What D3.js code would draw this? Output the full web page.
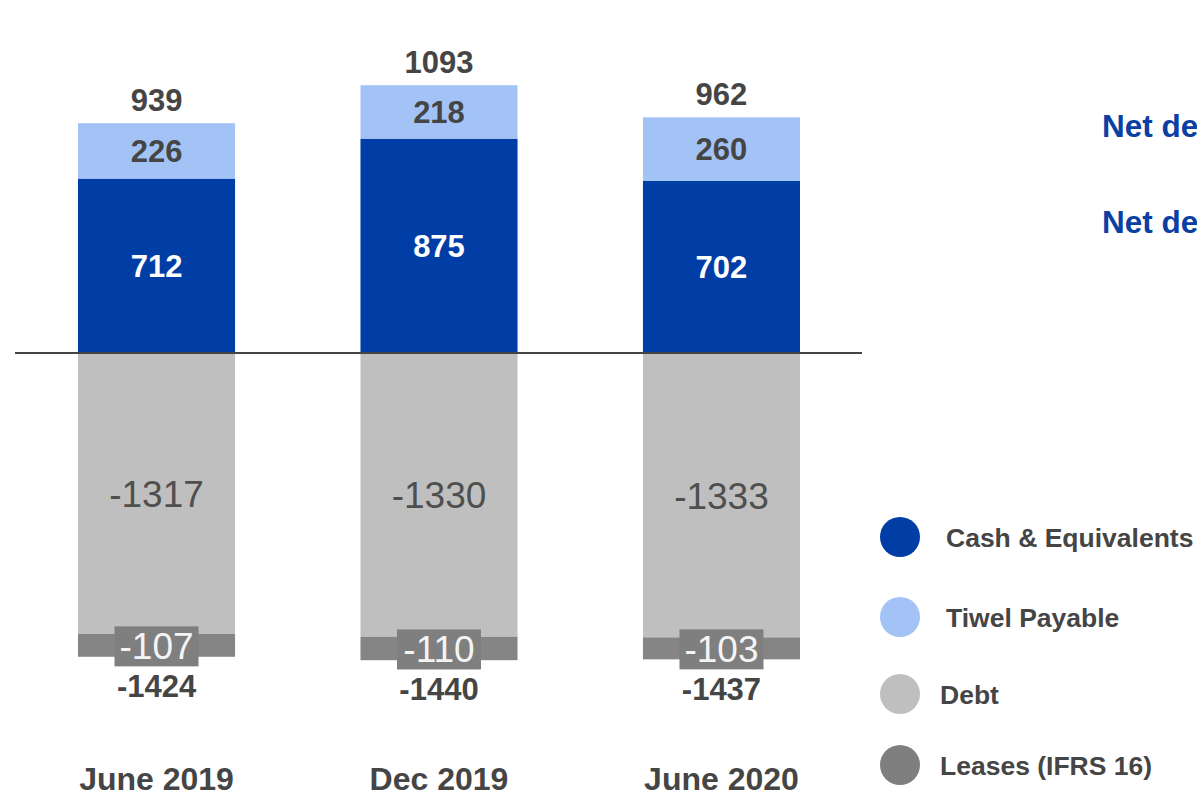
<!DOCTYPE html>
<html>
<head>
<meta charset="utf-8">
<script src="https://cdn.jsdelivr.net/npm/d3@7"></script>
<style>
  body { margin: 0; background: #fff; }
  svg { display: block; font-family: "Liberation Sans", Arial, sans-serif; }
</style>
</head>
<body>
<svg id="chart" width="1197" height="797"></svg>
<script>
// values
const categories = ["June 2019", "Dec 2019", "June 2020"];
const cash = [712, 875, 702];
const tiwel = [226, 218, 260];
const debt = [-1317, -1330, -1333];
const leases = [-107, -110, -103];
const totalPos = [939, 1093, 962];
const totalNeg = [-1424, -1440, -1437];
const legendItems = ["Cash & Equivalents", "Tiwel Payable", "Debt", "Leases (IFRS 16)"];
const sideNotes = ["Net debt excl. IFRS 16", "Net debt incl. IFRS 16"];

const colors = {
  cash: "#003da5",
  tiwel: "#a3c3f7",
  debt: "#bfbfbf",
  leases: "#858585",
  leaseBox: "#7f7f7f",
  text: "#454545"
};

const svg = d3.select("#chart");

const x = d3.scaleBand()
  .domain(categories)
  .range([78, 800])
  .paddingInner(0.444)
  .paddingOuter(0);

// slide uses a different px/unit above and below zero
const y = d3.scaleLinear()
  .domain([-1500, 0, 1200])
  .range([673, 353, 59]);

// stacked segments
let segs = [];
categories.forEach(function (c, i) {
  segs.push({ c: c, y0: 0, y1: cash[i], fill: colors.cash });
  segs.push({ c: c, y0: cash[i], y1: cash[i] + tiwel[i], fill: colors.tiwel });
  segs.push({ c: c, y0: 0, y1: debt[i], fill: colors.debt });
  segs.push({ c: c, y0: debt[i], y1: debt[i] + leases[i], fill: colors.leases });
});

svg.append("g").selectAll("rect")
  .data(segs)
  .enter().append("rect")
  .attr("x", d => x(d.c))
  .attr("width", x.bandwidth())
  .attr("y", d => y(Math.max(d.y0, d.y1)))
  .attr("height", d => Math.abs(y(d.y0) - y(d.y1)))
  .attr("fill", d => d.fill);

// zero line
svg.append("line")
  .attr("x1", 15).attr("x2", 862)
  .attr("y1", y(0)).attr("y2", y(0))
  .attr("stroke", "#444").attr("stroke-width", 2);

const labels = svg.append("g").attr("text-anchor", "middle");
const cx = c => x(c) + x.bandwidth() / 2;

categories.forEach(function (c, i) {
  // cash
  labels.append("text")
    .attr("x", cx(c)).attr("y", y(cash[i] / 2)).attr("dy", "0.36em")
    .attr("font-size", 31).attr("font-weight", "bold").attr("fill", "#fff")
    .text(cash[i]);
  // tiwel
  labels.append("text")
    .attr("x", cx(c)).attr("y", y(cash[i] + tiwel[i] / 2)).attr("dy", "0.36em")
    .attr("font-size", 31).attr("font-weight", "bold").attr("fill", colors.text)
    .text(tiwel[i]);
  // debt
  labels.append("text")
    .attr("x", cx(c)).attr("y", y(debt[i] / 2)).attr("dy", "0.36em")
    .attr("font-size", 37).attr("fill", "#4f4f4f")
    .text(debt[i]);
  // leases, label sits on a darker box
  let ly = y(debt[i] + leases[i] / 2);
  labels.append("rect")
    .attr("x", cx(c) - 42).attr("width", 84)
    .attr("y", ly - 19).attr("height", 40)
    .attr("fill", colors.leaseBox);
  labels.append("text")
    .attr("x", cx(c)).attr("y", ly).attr("dy", "0.36em")
    .attr("font-size", 37).attr("fill", "#f4f4f4")
    .text(leases[i]);
  // totals
  labels.append("text")
    .attr("x", cx(c)).attr("y", y(totalPos[i]) - 12)
    .attr("font-size", 31).attr("font-weight", "bold").attr("fill", colors.text)
    .text(totalPos[i]);
  labels.append("text")
    .attr("x", cx(c)).attr("y", y(totalNeg[i]) + 40)
    .attr("font-size", 31).attr("font-weight", "bold").attr("fill", colors.text)
    .text(totalNeg[i]);
  // category
  labels.append("text")
    .attr("x", cx(c)).attr("y", 790)
    .attr("font-size", 32).attr("font-weight", "bold").attr("fill", colors.text)
    .text(c);
});

// legend
const legendColors = [colors.cash, colors.tiwel, colors.debt, "#7f7f7f"];
const legendY = [537, 617, 694, 765];
const legendTx = [946, 946, 940, 940];
const legend = svg.append("g");
legendItems.forEach(function (t, i) {
  legend.append("circle")
    .attr("cx", 900).attr("cy", legendY[i]).attr("r", 20)
    .attr("fill", legendColors[i]);
  legend.append("text")
    .attr("x", legendTx[i]).attr("y", legendY[i]).attr("dy", "0.36em")
    .attr("font-size", 26.5).attr("font-weight", "bold").attr("fill", colors.text)
    .text(t);
});

// notes on the right, cut off by the slide edge
sideNotes.forEach(function (t, i) {
  svg.append("text")
    .attr("x", 1102).attr("y", [137, 233][i])
    .attr("font-size", 31.5).attr("font-weight", "bold").attr("fill", "#0a3fa3")
    .text(t);
});
</script>
</body>
</html>
